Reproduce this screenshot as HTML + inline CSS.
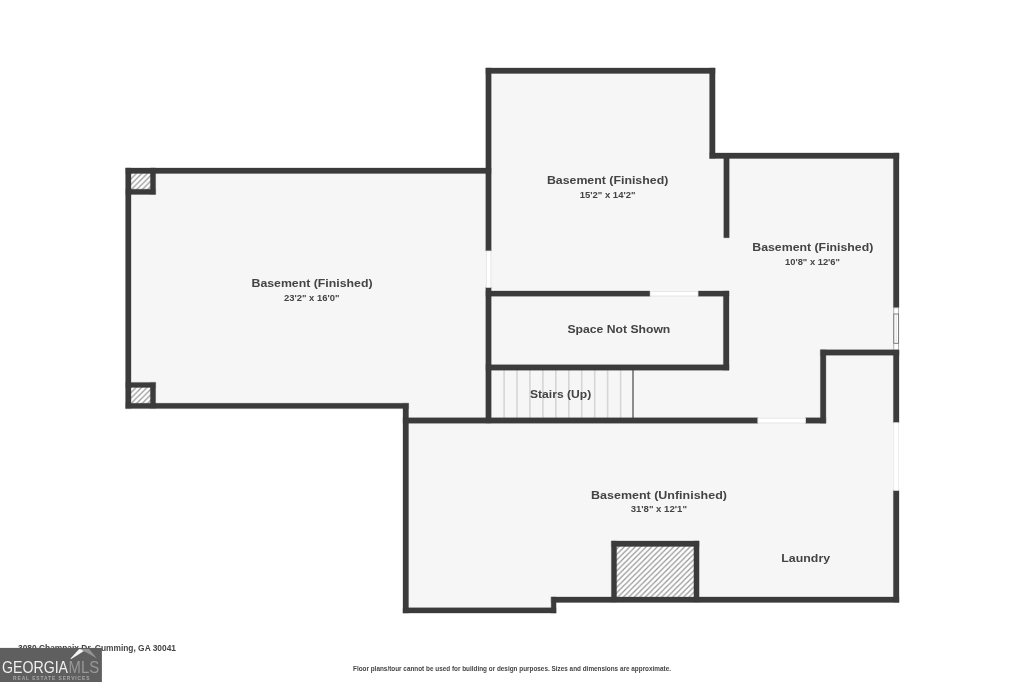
<!DOCTYPE html>
<html><head><meta charset="utf-8">
<style>
html,body{margin:0;padding:0;background:#fff;}
body{width:1024px;height:682px;overflow:hidden;font-family:"Liberation Sans",sans-serif;}
svg{display:block;position:absolute;left:0;top:0;filter:blur(0.35px)}
svg text{font-family:"Liberation Sans",sans-serif;font-weight:bold;fill:#444;}
</style></head><body>
<svg width="1024" height="682" viewBox="0 0 1024 682">
<defs>
<pattern id="h1" width="5.48" height="5.48" patternUnits="userSpaceOnUse" patternTransform="translate(3.9,0)">
<rect width="5.48" height="5.48" fill="#fff"/>
<path d="M-1,1 L1,-1 M-0.5,5.98 L5.98,-0.5 M4.48,6.48 L6.48,4.48" stroke="#969696" stroke-width="1.25"/>
</pattern>
<pattern id="h2" width="5.48" height="5.48" patternUnits="userSpaceOnUse" patternTransform="translate(3.0,0)">
<rect width="5.48" height="5.48" fill="#fff"/>
<path d="M-1,1 L1,-1 M-0.5,5.98 L5.98,-0.5 M4.48,6.48 L6.48,4.48" stroke="#969696" stroke-width="1.25"/>
</pattern>
</defs>
<!-- floor -->
<polygon fill="#f6f6f6" points="126,168 486,168 486,68 715,68 715,153 899,153 899,602 556,602 556,613 403,613 403,408 126,408"/>
<!-- stairs -->
<g stroke="#d6d6d6" stroke-width="1.6">
<path d="M504.1,370V418M517,370V418M529.9,370V418M542.9,370V418M555.8,370V418M568.8,370V418M581.7,370V418M594.7,370V418M607.6,370V418M620.6,370V418"/>
</g>
<path d="M633,370V418" stroke="#484848" stroke-width="1.2"/>
<!-- hatch -->
<rect x="131" y="173" width="20" height="17" fill="url(#h2)"/>
<rect x="131" y="387" width="20" height="17" fill="url(#h2)"/>
<rect x="616" y="546" width="79" height="52" fill="url(#h1)"/>
<!-- walls -->
<path fill="#3b3b3b" stroke="#3b3b3b" stroke-width="0.3" d="M125.6,168h5.4v240.6h-5.4z
M125.6,168h365.6v5.4h-365.6z
M125.6,403.3h283v5.3h-283z
M150.4,168h5.2v26.4h-5.2z
M125.6,189.2h30v5.2h-30z
M150.4,382.4h5.2v26h-5.2z
M125.6,382.4h30v5h-30z
M485.8,68h5.4v183h-5.4z
M485.8,287.3h5.4v135.7h-5.4z
M485.8,68h229.3v5.5h-229.3z
M709.6,68h5.5v90.5h-5.5z
M709.6,153h189.4v5.5h-189.4z
M723.8,158h5.4v79.8h-5.4z
M893.4,153h5.6v154.8h-5.6z
M893.4,349.6h5.6v73.2h-5.6z
M893.4,490.3h5.6v112.2h-5.6z
M820.4,349.8h78.6v5.4h-78.6z
M820.4,349.8h5.5v73.5h-5.5z
M403,417.8h354.9v5.5h-354.9z
M805.4,417.8h20.5v5.5h-20.5z
M403,403.3h5.5v209.8h-5.5z
M403,607.8h153.1v5.3h-153.1z
M551.2,597h4.9v16.1h-4.9z
M551.2,597h347.8v5.4h-347.8z
M611.4,541h87.7v5.4h-87.7z
M611.4,541h5.2v61h-5.2z
M693.9,541h5.2v61h-5.2z
M485.8,291h164.4v5.2h-164.4z
M698,291h31v5.2h-31z
M723.4,291h5.6v79.2h-5.6z
M485.8,364.7h243.2v5.5h-243.2z"/>

<!-- windows -->
<rect x="486.3" y="251" width="4.6" height="36.3" fill="#fff" stroke="#e2e2e2" stroke-width="0.8"/>
<rect x="650.2" y="291.4" width="47.8" height="4.6" fill="#fff" stroke="#e2e2e2" stroke-width="0.8"/>
<rect x="757.9" y="418.2" width="47.5" height="4.8" fill="#fff" stroke="#e2e2e2" stroke-width="0.8"/>
<rect x="893.8" y="422.8" width="4.8" height="67.5" fill="#fff" stroke="#e8e8e8" stroke-width="0.8"/>
<rect x="893.8" y="307.8" width="4.8" height="41.8" fill="#fff" stroke="#9a9a9a" stroke-width="0.8"/>
<rect x="893.8" y="314" width="4.8" height="29.3" fill="#fff" stroke="#6e6e6e" stroke-width="0.9"/>
<path d="M896.2,314.5V342.8" stroke="#cfcfcf" stroke-width="0.6"/>
<!-- labels -->
<g text-anchor="middle">
<text x="312" y="287.3" font-size="11.6" textLength="121" lengthAdjust="spacingAndGlyphs">Basement (Finished)</text>
<text x="311.7" y="300.6" font-size="9" textLength="55.5" lengthAdjust="spacingAndGlyphs">23'2" x 16'0"</text>
<text x="607.6" y="184.1" font-size="11.6" textLength="121.4" lengthAdjust="spacingAndGlyphs">Basement (Finished)</text>
<text x="607.6" y="197.5" font-size="9" textLength="55.8" lengthAdjust="spacingAndGlyphs">15'2" x 14'2"</text>
<text x="812.8" y="251" font-size="11.6" textLength="121.1" lengthAdjust="spacingAndGlyphs">Basement (Finished)</text>
<text x="812.5" y="264.5" font-size="9" textLength="55" lengthAdjust="spacingAndGlyphs">10'8" x 12'6"</text>
<text x="659" y="499.1" font-size="11.6" textLength="135.9" lengthAdjust="spacingAndGlyphs">Basement (Unfinished)</text>
<text x="658.8" y="512.3" font-size="9" textLength="56.3" lengthAdjust="spacingAndGlyphs">31'8" x 12'1"</text>
<text x="618.9" y="332.6" font-size="11.6" textLength="102.8" lengthAdjust="spacingAndGlyphs">Space Not Shown</text>
<text x="560.6" y="397.7" font-size="11.6" textLength="61.2" lengthAdjust="spacingAndGlyphs">Stairs (Up)</text>
<text x="805.7" y="562" font-size="11.6" textLength="48.8" lengthAdjust="spacingAndGlyphs">Laundry</text>
</g>
<!-- address -->
<text x="18" y="651" font-size="8.7" textLength="158" lengthAdjust="spacingAndGlyphs" fill="#4a4a4a">3080 Champaix Dr, Cumming, GA 30041</text>
<!-- disclaimer -->
<text x="353" y="671" font-size="6.8" textLength="318" lengthAdjust="spacingAndGlyphs" fill="#333">Floor plans/tour cannot be used for building or design purposes. Sizes and dimensions are approximate.</text>
<!-- logo -->
<rect x="0" y="647.9" width="101.9" height="35" fill="#5f5f5f"/>
<polygon points="70.3,658.8 79.2,649 81.6,649.2 83.6,651.3 71.3,659" fill="#f4f4f4"/>
<polygon points="79.2,649 89.1,649 97,658.4 86.6,652.6 83.6,651.3 81.6,649.2" fill="#949494"/>
<text x="2" y="673.3" font-size="17" textLength="66" lengthAdjust="spacingAndGlyphs" style="font-weight:normal;fill:#f0f0f0">GEORGIA</text>
<text x="68.6" y="673.3" font-size="17" textLength="30.5" lengthAdjust="spacingAndGlyphs" style="font-weight:normal;fill:#989898">MLS</text>
<text x="13" y="680.2" font-size="4.9" textLength="76.5" lengthAdjust="spacing" style="fill:#a8a8a8">REAL ESTATE SERVICES</text>
</svg>
</body></html>
